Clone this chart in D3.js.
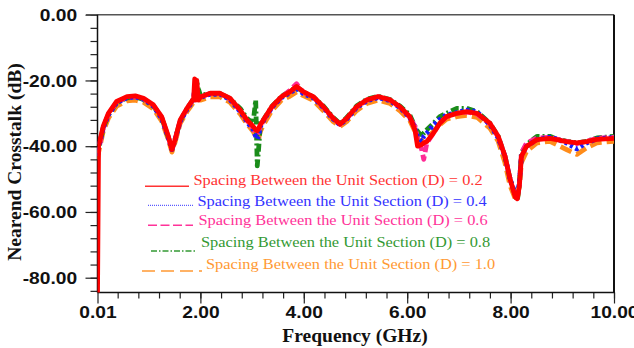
<!DOCTYPE html>
<html>
<head>
<meta charset="utf-8">
<script src="https://cdn.jsdelivr.net/npm/d3@7"></script>
<style>
  body { margin: 0; background: #fff; }
  svg { display: block; font-family: "Liberation Serif", "Times New Roman", serif; }
</style>
</head>
<body>
<div id="viz"></div>
<script>
// frequency samples (GHz), shared by all five curves
var freq = [0.01, 0.03, 0.12, 0.22, 0.38, 0.58, 0.74, 0.9, 1.09, 1.25,
  1.38, 1.45, 1.51, 1.61, 1.74, 1.83, 1.87, 1.89, 1.91, 1.93,
  1.96, 2.0, 2.19, 2.38, 2.57, 2.77, 2.9, 3.02, 3.07, 3.1,
  3.13, 3.16, 3.22, 3.38, 3.57, 3.73, 3.86, 3.99, 4.18, 4.38,
  4.57, 4.7, 4.83, 5.02, 5.22, 5.44, 5.67, 5.86, 6.05, 6.15,
  6.2, 6.28, 6.32, 6.38, 6.51, 6.63, 6.76, 6.96, 7.15, 7.35,
  7.6, 7.76, 7.89, 7.99, 8.09, 8.13, 8.17, 8.21, 8.31, 8.51,
  8.76, 8.89, 9.08, 9.28, 9.47, 9.67, 10.0];

// nearend crosstalk (dB) for each spacing D
var xtalkD02 = [-85.5, -40, -34, -30, -26.4, -24.9, -24.7, -25.4, -27.4, -31,
  -37, -41, -38, -32, -28.5, -26.4, -25.5, -19.5, -26, -20,
  -26, -25, -23.9, -23.9, -25.4, -29, -32, -34, -35, -35.3,
  -34.5, -33.5, -32, -28, -24.9, -23.5, -21.8, -23.4, -24.9, -28,
  -31.5, -33.3, -31.5, -28, -25.9, -24.9, -25.9, -28, -31, -35,
  -40, -39.5, -39, -38.6, -36, -33, -31, -30, -29.5, -30,
  -33, -37, -43, -50, -55.5, -56, -52, -43, -40, -38,
  -37.6, -38, -38.6, -39, -38.6, -37.9, -37.6];

var xtalkD04 = [-43, -40.5, -34.5, -30.5, -26.8, -25.3, -25, -25.7, -27.8, -31.5,
  -37.5, -41, -38, -32.5, -28.8, -26.8, -25.5, -22, -21.2, -23,
  -25.5, -25.2, -24.2, -24.2, -25.8, -29.5, -32.5, -35, -37, -37.8,
  -36.5, -34, -32.3, -28.3, -25.2, -23.8, -22.5, -24, -25.3, -28.3,
  -31.8, -33.5, -31.8, -28.3, -26.2, -25.2, -26.2, -28.3, -31.3, -34.5,
  -37, -38.5, -37, -36, -33.5, -31.8, -30.5, -29.8, -29, -29.5,
  -33.5, -37.5, -43, -50, -54.5, -55, -51, -43, -40, -38,
  -37.3, -37.8, -39, -40.8, -39, -37.8, -37.3];

var xtalkD06 = [-43, -41, -34.5, -30.3, -26.6, -25.1, -24.9, -25.6, -27.6, -31.2,
  -37.2, -41, -38, -32.2, -28.6, -26.6, -25.6, -23, -24.5, -22.5,
  -25.5, -25, -24, -24, -25.6, -29.2, -32.2, -34.5, -36, -36.5,
  -35.5, -34, -32.2, -28.2, -25, -23, -21, -23.6, -25, -28.2,
  -31.6, -33.4, -31.6, -28.2, -26, -25, -26, -28.2, -31.2, -34,
  -37.5, -41, -44, -39, -36, -33, -31, -30, -29.6, -30.2,
  -33.2, -37.2, -43, -50, -55, -55.5, -51.5, -42, -39, -37.5,
  -37.3, -37.8, -38.5, -39.2, -38.5, -37.6, -37.3];

var xtalkD08 = [-43, -41, -34.5, -30.5, -26.8, -25.3, -25, -25.8, -27.8, -31.3,
  -37.3, -41, -38, -32.3, -28.6, -26.5, -25.5, -24, -22, -20.5,
  -22.5, -24.5, -24, -24, -25.5, -28.5, -31.5, -33, -26, -46,
  -40, -33, -32, -28, -24.8, -23.3, -22, -23.5, -25, -27.8,
  -31.3, -33.2, -31.3, -27.8, -25.7, -24.8, -25.8, -27.8, -30.5, -34,
  -35.5, -37, -36, -35, -33, -31, -30, -28.5, -28.5, -29.5,
  -33, -37, -43, -50, -55, -56.5, -51.5, -42, -39.5, -37,
  -37, -37.8, -38.5, -39, -38.5, -37.5, -37];

var xtalkD10 = [-44, -42, -35.5, -31.5, -27.8, -26.2, -26, -26.6, -28.6, -32.3,
  -38, -41.8, -38.8, -33, -29.5, -27.5, -26.5, -25.8, -25.5, -25.2,
  -25.5, -26, -25, -25, -26.6, -30.2, -33.2, -35.5, -37, -37.8,
  -37.5, -35.5, -33.5, -29.2, -26, -24.8, -23.5, -24.6, -26, -29.2,
  -32.5, -34, -32.5, -29.2, -27, -26, -27, -29.2, -32.2, -35.5,
  -38, -38.5, -38, -37.5, -35.5, -33.5, -31.8, -31, -30.6, -31.2,
  -34.5, -38.5, -45, -52, -56, -56, -52, -45, -41.5, -39,
  -38.5, -39.5, -41, -42.5, -40.5, -39, -38.5];

var spacings = ["0.2", "0.4", "0.6", "0.8", "1.0"];
var yTickValues = [0, -20, -40, -60, -80];
var xTickValues = [0.01, 2, 4, 6, 8, 10];

// styling per series, same order as spacings
var lineColors = ["#ff0000", "#1a1aff", "#ff2a95", "#1a8c1a", "#ff8c1a"];
var textColors = ["#ff3333", "#3333ff", "#ff3399", "#339933", "#ff9933"];
var plotDash = [null, "3,3", "8,4", "8,3,2,3", "12,5"];
var legendDash = [null, "1,1", "9,3.5", "6,2,1.5,2", "13,6"];

var W = 634, H = 348;
var plot = { left: 97.5, right: 614, top: 14.7, bottom: 292.5 };

var xScale = d3.scaleLinear().domain([0.01, 10]).range([plot.left, plot.right]);
var yScale = d3.scaleLinear().domain([-84.5, 0]).range([plot.bottom, plot.top]);

var svg = d3.select("#viz").append("svg").attr("width", W).attr("height", H);

svg.append("clipPath").attr("id", "clip")
  .append("rect")
  .attr("x", plot.left)
  .attr("y", plot.top)
  .attr("width", plot.right - plot.left)
  .attr("height", plot.bottom - plot.top);

// minor ticks first, then the labelled ones on top
var yMinor = d3.range(0, -85, -4);
var xMinor = d3.range(1, 26).map(function (k) { return +(k * 0.4).toFixed(1); });

svg.append("g")
  .attr("class", "axis")
  .attr("transform", "translate(" + plot.left + ",0)")
  .call(d3.axisLeft(yScale).tickValues(yMinor).tickSize(7).tickFormat(""));

var yAxis = svg.append("g")
  .attr("class", "axis")
  .attr("transform", "translate(" + plot.left + ",0)")
  .call(d3.axisLeft(yScale).tickValues(yTickValues).tickSize(12).tickPadding(5)
    .tickFormat(function (d) { return d.toFixed(2); }));

svg.append("g")
  .attr("class", "axis")
  .attr("transform", "translate(0," + plot.bottom + ")")
  .call(d3.axisBottom(xScale).tickValues(xMinor).tickSize(6).tickFormat(""));

var xAxis = svg.append("g")
  .attr("class", "axis")
  .attr("transform", "translate(0," + plot.bottom + ")")
  .call(d3.axisBottom(xScale).tickValues(xTickValues).tickSize(11)
    .tickFormat(function (d) { return d.toFixed(2); }));

svg.selectAll(".axis path.domain").remove();
svg.selectAll(".axis line").attr("stroke", "#222").attr("stroke-width", 1.2);

yAxis.selectAll("text")
  .attr("x", -17)
  .attr("dy", "0.36em")
  .attr("transform", "scale(1.2,1)")
  .style("font-size", "16px")
  .style("font-weight", "bold")
  .attr("fill", "#111");

xAxis.selectAll("text")
  .attr("x", 0)
  .attr("y", 26)
  .attr("dy", null)
  .attr("transform", "scale(1.2,1)")
  .style("font-size", "16px")
  .style("font-weight", "bold")
  .attr("fill", "#111");

// frame
svg.append("line")
  .attr("x1", 86).attr("x2", plot.right)
  .attr("y1", plot.top).attr("y2", plot.top)
  .attr("stroke", "#555").attr("stroke-width", 1.4);
svg.append("line")
  .attr("x1", plot.left).attr("x2", plot.left)
  .attr("y1", plot.top).attr("y2", plot.bottom)
  .attr("stroke", "#111").attr("stroke-width", 1.5);
svg.append("line")
  .attr("x1", plot.left).attr("x2", plot.right + 1)
  .attr("y1", plot.bottom).attr("y2", plot.bottom)
  .attr("stroke", "#111").attr("stroke-width", 1.5);
svg.append("line")
  .attr("x1", plot.right).attr("x2", plot.right)
  .attr("y1", plot.top).attr("y2", plot.bottom)
  .attr("stroke", "#111").attr("stroke-width", 2);

// curves, red drawn last so it sits on top
var seriesValues = [xtalkD02, xtalkD04, xtalkD06, xtalkD08, xtalkD10];
var drawOrder = [4, 3, 2, 1, 0];

var line = d3.line()
  .x(function (d) { return xScale(d[0]); })
  .y(function (d) { return yScale(d[1]); });

var curves = svg.append("g").attr("clip-path", "url(#clip)");

drawOrder.forEach(function (i) {
  var pts = freq.map(function (f, j) { return [f, seriesValues[i][j]]; });
  curves.append("path")
    .datum(pts)
    .attr("d", line)
    .attr("fill", "none")
    .attr("stroke", lineColors[i])
    .attr("stroke-width", 4.8)
    .attr("stroke-linejoin", "round")
    .attr("stroke-dasharray", plotDash[i]);
});

// legend, laid out by hand like the original
var legendLayout = [
  { x1: 145, x2: 189, ly: 186.3, tx: 193.5, ty: 184.5 },
  { x1: 148, x2: 193, ly: 205.3, tx: 197.5, ty: 206 },
  { x1: 148, x2: 193, ly: 225.3, tx: 198.5, ty: 224.5 },
  { x1: 151, x2: 197, ly: 251, tx: 201, ty: 247 },
  { x1: 142, x2: 202, ly: 271, tx: 206, ty: 268.5 }
];

var legend = svg.append("g").attr("class", "legend");

spacings.forEach(function (s, i) {
  var L = legendLayout[i];
  legend.append("line")
    .attr("x1", L.x1).attr("x2", L.x2)
    .attr("y1", L.ly).attr("y2", L.ly)
    .attr("stroke", textColors[i])
    .attr("stroke-width", i === 1 ? 1 : 1.4)
    .attr("stroke-dasharray", legendDash[i]);
  legend.append("text")
    .attr("transform", "translate(" + L.tx + "," + L.ty + ") scale(1.17,1)")
    .attr("fill", textColors[i])
    .style("font-size", "14px")
    .text("Spacing Between the Unit Section (D) = " + s);
});

// axis titles
svg.append("text")
  .attr("x", 355)
  .attr("y", 342)
  .attr("text-anchor", "middle")
  .style("font-size", "19.5px")
  .style("font-weight", "bold")
  .attr("fill", "#111")
  .text("Frequency (GHz)");

svg.append("text")
  .attr("transform", "translate(21,162) rotate(-90)")
  .attr("text-anchor", "middle")
  .style("font-size", "19.5px")
  .style("font-weight", "bold")
  .attr("fill", "#111")
  .text("Nearend Crosstalk (dB)");
</script>
</body>
</html>
